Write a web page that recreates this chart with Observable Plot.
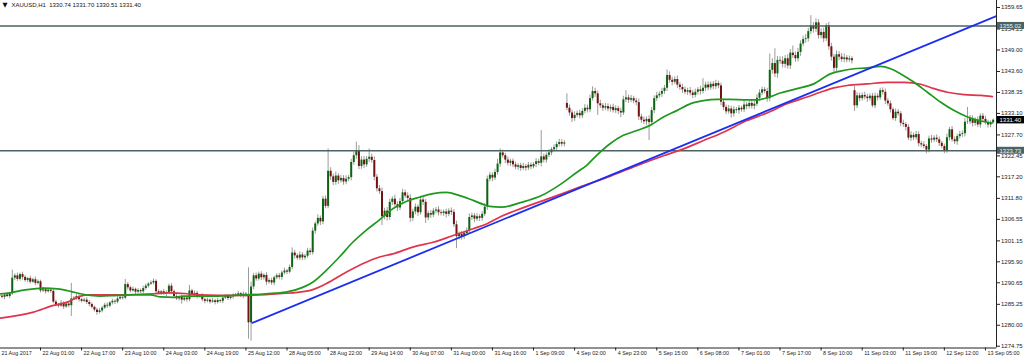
<!DOCTYPE html>
<html>
<head>
<meta charset="utf-8">
<script src="https://cdn.jsdelivr.net/npm/d3@7"></script>
<script src="https://cdn.jsdelivr.net/npm/@observablehq/plot@0.6"></script>
<style>
html, body { margin: 0; padding: 0; background: #ffffff; }
#chart { width: 1024px; height: 360px; overflow: hidden; }
#chart svg { display: block; }
</style>
</head>
<body>
<div id="chart"></div>
<script>
// ---------- DATA ----------
const symbolTitle = "XAUUSD,H1  1330.74 1331.70 1330.51 1331.40";

// hourly closes, bar 0 .. 387
const closes = [
1287.3,1287.0,1287.6,1287.2,1287.9,1291.8,1292.4,1291.5,1292.7,1292.0,
1291.2,1291.7,1290.8,1291.4,1290.5,1290.9,1288.6,1288.9,1288.4,1288.8,
1288.5,1285.8,1285.2,1284.8,1285.5,1284.6,1285.3,1284.9,1286.6,1286.8,
1287.2,1286.4,1286.0,1286.3,1285.7,1285.2,1284.5,1283.8,1283.2,1283.6,
1284.3,1285.0,1284.8,1285.6,1286.0,1285.8,1286.6,1287.0,1286.8,1290.2,
1289.4,1288.6,1289.0,1288.3,1288.7,1288.4,1289.2,1289.8,1290.3,1290.6,
1291.0,1288.4,1288.0,1288.4,1287.8,1288.2,1289.8,1288.4,1287.2,1286.6,
1287.0,1286.3,1286.8,1286.4,1288.6,1287.6,1288.0,1287.2,1287.4,1286.4,
1286.0,1286.3,1285.8,1286.1,1285.7,1286.2,1286.0,1286.8,1287.2,1286.7,
1287.1,1287.4,1287.6,1287.9,1287.3,1287.8,1287.5,1280.6,1289.6,1292.4,
1291.6,1292.8,1291.9,1292.5,1290.8,1291.2,1290.6,1291.9,1292.4,1292.0,
1293.1,1293.6,1293.3,1294.5,1298.1,1297.4,1296.8,1297.6,1296.9,1297.3,
1298.6,1298.2,1303.6,1305.4,1306.8,1305.9,1311.6,1309.8,1318.6,1317.2,
1315.8,1317.4,1316.2,1316.8,1315.9,1316.6,1317.0,1320.8,1322.5,1323.8,
1319.8,1321.4,1320.2,1321.6,1322.1,1321.3,1317.1,1314.2,1313.5,1307.2,
1308.6,1307.0,1310.8,1311.6,1310.2,1309.4,1311.0,1313.2,1312.4,1311.8,
1306.8,1308.4,1309.6,1308.2,1311.4,1310.8,1306.9,1308.0,1307.6,1308.6,
1308.9,1308.2,1308.0,1308.4,1307.8,1308.6,1308.3,1305.2,1302.2,1302.8,
1302.2,1303.0,1303.6,1307.0,1307.4,1306.6,1307.2,1306.8,1307.8,1309.6,
1316.6,1317.6,1316.9,1318.3,1320.4,1323.2,1322.5,1321.4,1320.6,1321.1,
1320.2,1319.6,1320.0,1319.3,1319.8,1319.4,1320.1,1319.7,1320.3,1321.0,
1320.6,1322.2,1321.4,1322.6,1323.2,1324.0,1324.5,1325.3,1325.8,1325.4,
1325.7,1334.4,1333.2,1331.8,1332.6,1333.1,1332.5,1333.6,1334.4,1334.0,
1336.8,1338.6,1338.0,1335.5,1335.0,1334.4,1334.8,1334.2,1334.6,1333.8,
1334.3,1333.6,1333.2,1336.5,1337.0,1336.4,1336.8,1336.2,1335.8,1332.2,
1331.4,1331.0,1331.6,1330.8,1333.8,1336.8,1337.5,1337.9,1338.6,1339.4,
1342.6,1341.4,1340.9,1341.6,1340.2,1339.6,1339.0,1338.4,1338.8,1338.2,
1337.6,1338.4,1339.0,1338.6,1339.4,1340.2,1339.5,1340.4,1339.8,1340.6,
1340.0,1335.9,1334.6,1333.5,1334.2,1333.0,1334.0,1333.8,1334.4,1334.0,
1335.2,1334.8,1335.6,1334.9,1335.4,1336.9,1338.2,1339.0,1338.6,1336.8,
1343.9,1345.6,1343.0,1346.4,1346.2,1345.4,1346.8,1345.0,1348.2,1347.6,
1346.8,1348.4,1350.5,1351.6,1351.8,1353.6,1355.0,1354.2,1355.8,1352.6,
1353.4,1351.8,1355.1,1349.8,1347.2,1344.4,1347.8,1347.2,1346.6,1347.0,
1346.5,1346.8,1346.3,1335.0,1337.5,1336.8,1337.6,1337.2,1336.8,1337.4,
1335.0,1337.4,1337.0,1338.8,1338.4,1336.2,1335.5,1334.0,1331.8,1333.4,
1333.0,1330.6,1330.3,1329.6,1326.9,1327.6,1327.0,1327.8,1325.5,1325.2,
1324.8,1323.9,1326.7,1326.4,1326.9,1326.5,1325.6,1324.8,1323.8,1327.0,
1329.0,1326.5,1326.0,1327.3,1327.8,1328.0,1330.9,1331.0,1331.8,1330.6,
1331.4,1330.2,1332.4,1331.6,1330.8,1330.2,1330.74,1331.40
];

// opens follow the previous close, except the first bar and the two weekend gaps
const firstOpen = 1287.6;
const gapOpens = {221: 1335.6, 333: 1338.8};

// wick lengths above / below the body
const upperWicks = [
0.4,0.5,0.3,0.6,0.4,2.0,0.5,0.7,0.4,0.6, 0.5,0.3,0.6,0.4,0.7,0.5,0.4,0.6,0.3,0.5,
0.4,0.6,0.5,0.3,0.7,0.4,0.5,0.6,3.9,0.4, 0.6,0.5,0.3,0.4,0.6,0.5,0.4,0.3,0.5,0.6,
0.4,0.5,0.6,0.3,0.5,0.4,0.6,0.5,0.4,1.3, 0.5,0.4,0.6,0.3,0.5,0.4,0.6,0.5,0.4,0.5,
0.6,0.4,0.5,0.3,0.6,0.4,0.5,0.6,0.4,0.5, 0.4,0.6,0.3,0.5,1.4,0.4,0.6,0.5,0.3,0.5,
0.4,0.5,0.3,0.6,0.4,0.5,0.3,0.6,0.4,0.5, 0.3,0.5,0.4,0.6,0.3,0.5,0.4,6.9,1.2,0.6,
0.7,0.5,0.6,0.4,0.7,0.5,0.6,0.4,0.5,0.6, 0.5,0.7,0.4,0.6,1.3,0.7,0.5,0.8,0.6,0.5,
0.7,0.6,0.8,0.5,0.9,0.6,0.7,0.8,5.6,0.9, 0.7,1.0,0.6,0.8,0.7,0.9,0.6,0.8,0.9,2.1,
1.2,0.8,0.9,0.7,2.1,0.8,0.9,0.7,0.8,0.9, 0.7,0.9,0.8,0.6,1.0,0.7,0.8,0.9,0.7,0.8,
0.9,0.7,0.8,0.6,0.9,0.8,0.7,0.6,0.8,0.7, 0.6,0.8,0.7,0.5,0.7,0.6,0.8,0.7,0.9,0.6,
0.7,0.6,0.8,0.9,0.7,0.6,0.8,0.5,0.7,0.9, 0.8,0.7,0.6,0.8,1.2,1.0,0.7,0.6,0.8,0.5,
0.6,0.7,0.5,0.6,0.8,0.5,0.7,0.6,0.5,0.8, 0.6,6.6,0.7,0.6,0.8,0.5,0.7,0.6,0.8,0.7,
0.6,2.4,0.8,0.7,0.9,0.6,0.8,0.7,0.9,0.8, 0.9,1.2,0.8,0.7,0.9,0.6,0.8,0.7,0.6,0.8,
0.7,0.6,0.8,0.9,1.8,0.7,0.8,0.6,0.7,0.9, 0.7,0.8,0.6,0.9,0.8,0.7,0.9,0.6,0.8,0.7,
1.4,0.9,0.8,0.7,0.9,0.6,0.8,0.7,0.6,0.8, 0.7,0.8,0.6,0.9,2.4,0.7,0.8,0.6,0.7,0.8,
0.6,0.7,0.8,0.6,0.9,0.7,0.8,0.6,0.7,0.5, 1.4,0.7,0.6,0.8,0.7,0.9,0.8,0.7,0.6,0.8,
4.1,1.2,3.7,1.0,0.9,1.1,0.8,1.0,0.9,1.8, 0.9,1.0,0.8,0.9,1.1,0.8,2.6,0.9,1.0,0.8,
0.9,1.1,0.5,0.8,0.9,0.7,1.0,0.8,0.9,1.0, 0.6,0.7,0.5,1.0,0.8,0.7,0.6,0.8,0.7,0.6,
0.7,0.8,0.6,0.6,0.7,0.8,0.6,0.7,0.5,0.8, 0.7,0.6,0.8,0.5,0.7,0.9,0.6,0.8,0.7,0.6,
0.8,0.5,0.7,0.9,0.6,0.8,0.7,0.5,0.6,0.9, 0.6,0.8,0.7,0.6,0.8,0.7,0.9,3.6,0.8,0.7,
0.6,0.8,0.6,0.7,0.8,0.6,0.5,0.3
];
const lowerWicks = [
0.5,0.4,0.6,0.3,0.5,0.4,0.6,0.5,0.4,0.7, 0.4,0.6,0.5,0.3,0.6,0.4,0.5,0.4,0.6,0.3,
0.5,0.4,0.6,0.5,0.3,0.6,0.4,0.5,2.7,0.4, 0.5,0.6,0.4,0.3,0.5,0.6,0.4,0.5,0.7,0.4,
0.5,0.3,0.6,0.4,0.5,0.6,0.4,0.3,0.5,0.4, 0.6,0.5,0.3,0.6,0.4,0.5,0.6,0.4,0.5,0.3,
0.5,0.6,0.4,0.5,0.3,0.6,0.4,0.5,0.6,0.4, 0.5,1.0,0.4,0.6,0.5,0.3,0.5,0.6,0.4,0.5,
0.6,0.4,0.5,0.3,0.6,0.4,0.5,0.6,0.3,0.5, 0.4,0.6,0.3,0.5,0.4,0.6,0.5,4.1,4.6,0.7,
0.6,0.5,0.7,0.6,0.8,0.5,0.6,0.7,0.5,0.6, 0.7,0.5,0.6,0.4,0.6,0.8,0.5,0.6,0.7,0.6,
0.5,0.7,0.6,0.8,0.6,0.9,0.7,0.6,0.6,0.9, 0.8,0.7,0.9,0.6,0.8,0.7,0.6,0.8,0.7,0.9,
0.8,0.7,0.9,0.6,0.8,0.7,0.9,0.8,0.7,2.2, 0.8,0.9,0.7,0.8,0.6,0.9,0.7,0.8,0.6,0.7,
1.0,0.8,0.7,0.9,0.6,0.8,1.4,0.7,0.8,0.6, 0.7,0.8,0.6,0.7,0.9,0.6,0.8,0.7,3.0,0.8,
0.9,0.7,0.6,0.8,0.7,0.9,0.6,0.8,0.7,0.6, 0.8,0.7,0.9,0.6,0.7,0.8,0.6,0.9,0.7,0.8,
0.7,0.6,0.8,0.7,0.5,0.8,0.6,0.7,0.5,0.8, 0.6,0.9,0.7,0.8,0.6,0.7,0.5,0.8,0.6,0.7,
0.7,0.6,0.8,1.0,0.7,0.6,0.8,0.7,0.6,0.8, 0.7,0.6,0.9,2.9,0.7,0.8,0.6,0.7,0.8,0.6,
0.7,0.8,1.2,0.6,0.7,0.8,0.6,0.7,0.8,0.9, 0.8,0.7,0.9,4.5,0.6,0.8,0.7,0.6,0.8,0.7,
0.8,0.7,0.9,0.6,0.8,0.7,0.9,0.6,0.8,0.7, 0.8,0.6,0.7,0.9,0.6,0.8,0.7,0.6,0.8,0.7,
0.7,0.9,0.8,0.7,0.6,1.1,0.8,0.7,0.9,0.6, 0.7,0.8,0.6,0.7,0.9,0.6,0.8,0.7,0.6,0.9,
0.8,1.0,0.9,1.1,0.8,0.9,1.0,0.8,0.9,0.7, 0.9,0.8,1.0,0.7,0.9,0.8,0.7,1.0,0.8,0.9,
0.8,1.0,0.7,0.9,1.0,1.0,0.8,0.9,0.7,0.8, 0.7,0.6,0.8,1.4,0.7,0.8,0.6,0.7,0.9,0.6,
0.5,0.7,0.8,0.6,0.7,0.9,0.6,0.8,0.5,0.7, 0.6,0.8,0.7,0.9,0.6,0.8,0.7,0.6,0.8,0.7,
0.6,0.9,0.7,0.8,0.6,0.7,0.8,0.6,0.8,0.7, 0.8,0.6,0.7,0.9,0.6,0.7,0.8,0.6,0.7,0.9,
0.7,0.6,0.8,0.7,0.6,0.8,0.7,0.23
];

// green moving average (bar, value)
const greenMABars = [0.4,4.3,8.2,13.3,17.2,22.6,27.7,31.6,35.5,39.4,46,52.3,58.9,62.8,67.9,
71.8,78.4,85.1,91.3,96,103.8,111.6,118.1,122,127.2,132.4,137.6,142.8,148,153.2,
158.4,163.6,168.9,174.1,179.2,184.5,188.4,190.9,195.5,203.3,211.1,218.9,224.8,228.7,232.6,
237.8,243,248.2,253.4,258.6,263.8,269,274.2,279.4,284.6,291.1,295,298.9,304.1,310.6,
317.1,323.6,327.5,332.8,338,343.1,347.1,351,356.2,361.4,366.6,371.8,377,382.2,386.7];
const greenMAValues = [1287.9,1288.1,1288.7,1289.1,1289.3,1289.1,1288.5,1287.9,1287.5,1287.3,
1287.5,1287.6,1287.6,1287.1,1287.0,1287.3,1287.3,1287.3,1287.5,1287.6,
1287.9,1288.3,1289.5,1290.8,1293.7,1297.1,1300.8,1303.8,1306.4,1309.2,
1311.0,1312.1,1313.0,1313.3,1312.5,1311.3,1310.3,1309.8,1309.6,1310.8,
1312.5,1315.5,1318.3,1320.1,1322.6,1325.5,1327.6,1328.8,1330.1,1332.2,
1333.8,1335.5,1336.3,1336.6,1336.6,1336.5,1336.5,1337.0,1338.2,1339.3,
1340.5,1343.0,1343.7,1344.3,1344.5,1344.9,1344.3,1343.0,1340.9,1338.4,
1335.9,1333.8,1332.2,1331.2,1330.7];

// red moving average (bar, value)
const redMABars = [0.4,13.3,21.1,26.5,30.4,34.3,39.4,60.1,65.6,73.4,78.4,85.1,96.8,109,120.7,
127.2,135,142.8,148,153.2,161,168.9,176.7,184.5,189.7,195.5,203.3,215,226.7,238.4,
248.2,258.6,266.4,274.2,282,291.1,298.9,306.7,314.5,319.7,325,330.1,338,345.8,352.3,
358.8,364,369.2,375.7,382.2,386.7];
const redMAValues = [1281.8,1283.3,1285.0,1285.8,1287.0,1287.6,1287.6,1287.9,1288.1,1287.9,
1287.6,1287.5,1287.5,1287.9,1288.7,1290.4,1293.3,1295.8,1297.1,1297.9,
1299.6,1300.8,1302.5,1304.2,1305.4,1307.3,1309.3,1312.0,1314.8,1317.5,
1320.0,1322.5,1324.2,1326.3,1328.4,1331.3,1333.2,1335.5,1337.2,1338.4,
1339.5,1340.1,1340.5,1340.9,1340.9,1340.4,1339.3,1338.4,1337.8,1337.6,1337.3];

// blue trend line anchors
const trendBars = [98.5, 388.3];
const trendPrices = [1280.6, 1357.5];

// horizontal levels and current bid
const levels = [1355.02, 1323.73];
const currentPrice = 1331.40;

// axis ticks
const priceTicks = [1359.65,1354.25,1349.00,1343.60,1338.35,1333.10,1327.70,1322.45,1317.20,
1311.80,1306.55,1301.15,1295.90,1290.65,1285.25,1280.00,1274.75];
const timeTickBars = [0,16,32,48,64,80,96,112,128,144,160,176,192,208,224,240,256,272,288,304,320,336,352,368,384];
const timeTickLabels = ["21 Aug 2017","22 Aug 01:00","22 Aug 17:00","23 Aug 10:00","24 Aug 03:00",
"24 Aug 19:00","25 Aug 12:00","28 Aug 05:00","28 Aug 22:00","29 Aug 14:00","30 Aug 07:00",
"31 Aug 00:00","31 Aug 16:00","1 Sep 09:00","4 Sep 02:00","4 Sep 23:00","5 Sep 15:00",
"6 Sep 08:00","7 Sep 01:00","7 Sep 17:00","8 Sep 10:00","11 Sep 03:00","11 Sep 19:00",
"12 Sep 12:00","13 Sep 05:00"];

// ---------- BUILD ----------
const candles = closes.map((c, i) => {
  const o = gapOpens[i] !== undefined ? gapOpens[i] : (i === 0 ? firstOpen : closes[i - 1]);
  return {i, o, c, h: Math.max(o, c) + upperWicks[i], l: Math.min(o, c) - lowerWicks[i]};
});
const greenMA = greenMABars.map((b, k) => ({i: b, v: greenMAValues[k]}));
const redMA = redMABars.map((b, k) => ({i: b, v: redMAValues[k]}));
const trend = trendBars.map((b, k) => ({i: b, v: trendPrices[k]}));
const labelOf = new Map(timeTickBars.map((b, k) => [b, timeTickLabels[k]]));

const xDomain = [0.42, 388.3];
const yDomain = [1274.3, 1361.4];
const FONT = "'Liberation Sans', Arial, sans-serif";

const chart = Plot.plot({
  width: 1024,
  height: 360,
  marginTop: 0,
  marginRight: 28,
  marginBottom: 12.5,
  marginLeft: 0,
  style: {background: "#ffffff", fontFamily: FONT, color: "#222"},
  x: {domain: xDomain, axis: null},
  y: {domain: yDomain, axis: null},
  marks: [
    // candle wicks
    Plot.ruleX(candles, {x: "i", y1: "l", y2: "h", stroke: "#9b9b9b", strokeWidth: 1}),
    // candle bodies
    Plot.ruleX(candles, {x: "i", y1: "o", y2: "c",
      stroke: d => d.c >= d.o ? "#0d6410" : "#731212", strokeWidth: 2, strokeLinecap: "butt"}),
    // horizontal levels
    Plot.ruleY(levels, {stroke: "#4b6363", strokeWidth: 1.6}),
    // moving averages
    Plot.line(redMA, {x: "i", y: "v", stroke: "#e0344c", strokeWidth: 1.7, curve: "monotone-x"}),
    Plot.line(greenMA, {x: "i", y: "v", stroke: "#1e991e", strokeWidth: 1.7, curve: "monotone-x"}),
    // trend line
    Plot.line(trend, {x: "i", y: "v", stroke: "#1c2ef2", strokeWidth: 1.8, clip: true}),
    // axes lines
    Plot.ruleY([yDomain[0]], {stroke: "#222", strokeWidth: 1}),
    Plot.ruleX([xDomain[1]], {stroke: "#222", strokeWidth: 1}),
    // x axis: tick marks, then labels set just right of each tick
    Plot.axisX(timeTickBars, {anchor: "bottom", tickSize: 3, fill: "none", stroke: "#222", label: null}),
    Plot.axisX(timeTickBars, {anchor: "bottom", tickSize: 0, tickPadding: 3.5, stroke: "none",
      tickFormat: d => labelOf.get(d), textAnchor: "start", dx: 2, fontSize: 5.4, fill: "#222", label: null}),
    // y axis on the right
    Plot.axisY(priceTicks, {anchor: "right", tickSize: 3, tickPadding: 1.5,
      tickFormat: d => d.toFixed(2), fontSize: 6, fill: "#222", stroke: "#222", label: null}),
    // level labels on the price axis
    Plot.rect(levels, {y1: d => d, y2: d => d, insetTop: -3.5, insetBottom: -3.5,
      insetLeft: 997, insetRight: -28, fill: "#4b6363"}),
    Plot.text(levels, {y: d => d, text: d => d.toFixed(2), frameAnchor: "right", dx: 3,
      textAnchor: "start", fill: "#f2f2f2", fontSize: 6}),
    // current price label
    Plot.rect([currentPrice], {y1: d => d, y2: d => d, insetTop: -3.7, insetBottom: -3.7,
      insetLeft: 997, insetRight: -28, fill: "#000"}),
    Plot.text([currentPrice], {y: d => d, text: d => d.toFixed(2), frameAnchor: "right", dx: 3,
      textAnchor: "start", fill: "#fff", fontSize: 6}),
    // title
    Plot.text(["\u25BC"], {text: d => d, frameAnchor: "top-left", dx: 2, dy: 2,
      lineAnchor: "top", textAnchor: "start", fontFamily: "'DejaVu Sans', sans-serif", fontSize: 6.5, fill: "#111"}),
    Plot.text([symbolTitle], {text: d => d, frameAnchor: "top-left", dx: 11, dy: 2,
      lineAnchor: "top", textAnchor: "start", fontSize: 6, fill: "#111"})
  ]
});
document.getElementById("chart").appendChild(chart);
</script>
</body>
</html>
